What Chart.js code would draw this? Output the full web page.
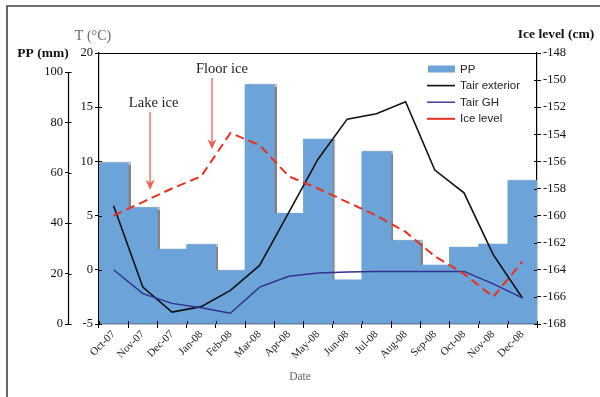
<!DOCTYPE html>
<html>
<head>
<meta charset="utf-8">
<script src="https://cdn.jsdelivr.net/npm/chart.js@4.4.1/dist/chart.umd.min.js"></script>
<style>
  html, body { margin: 0; padding: 0; background: #fff; }
  #wrap { position: relative; width: 600px; height: 397px; }
  canvas { display: block; }
</style>
</head>
<body>
<div id="wrap"><canvas id="c" width="600" height="397"></canvas></div>
<script>
// Monthly series, Oct-07 .. Dec-08
const months = ['Oct-07', 'Nov-07', 'Dec-07', 'Jan-08', 'Feb-08', 'Mar-08', 'Apr-08', 'May-08',
                'Jun-08', 'Jul-08', 'Aug-08', 'Sep-08', 'Oct-08', 'Nov-08', 'Dec-08'];
const ppMm = [64.0, 46.2, 29.6, 31.5, 21.2, 95.0, 43.9, 73.4, 17.5, 68.4, 33.1, 23.4, 30.4, 31.7, 56.9];
const tairExterior = [5.9, -1.6, -3.9, -3.4, -1.9, 0.4, 5.3, 10.2, 13.9, 14.4, 15.5, 9.2, 7.1, 1.4, -2.6];
const tairGH = [0.0, -2.2, -3.1, -3.5, -4.0, -1.6, -0.6, -0.3, -0.2, -0.15, -0.15, -0.15, -0.15, -1.3, -2.6];
const iceLevel = [-160.0, -159.0, -158.0, -157.1, -153.9, -154.8, -157.1, -158.0, -159.0, -160.0,
                  -161.2, -163.0, -164.3, -166.0, -163.4];

// Axis ranges
const ppRange = [0, 100];
const tRange = [-5, 20];
const iceRange = [-168, -148];

const SERIF = '"Liberation Serif", "Times New Roman", serif';
const SANS = '"Liberation Sans", Arial, sans-serif';

// Event markers drawn as arrows, placed on the month axis and the ice-level axis
const events = [
  { text: 'Lake ice', at: 1.25, from: -152.35, to: -158.1, textAt: 1.37, textY: -151.7 },
  { text: 'Floor ice', at: 3.37, from: -149.85, to: -155.1, textAt: 3.71, textY: -149.2 }
];

// PP axis stops at 100 mm, slightly below the top of the plot frame
const ppTop = 100 * 271 / 252;

const fixedWidth = (w) => (scale) => { scale.width = w; };
const plainNumber = (v) => String(v);

const decor = {
  id: 'decor',
  beforeDraw(chart) {
    const { ctx, width, height } = chart;
    ctx.save();
    ctx.fillStyle = '#fff';
    ctx.fillRect(0, 0, width, height);
    ctx.strokeStyle = '#444';
    ctx.lineWidth = 1.6;
    ctx.beginPath();
    ctx.moveTo(7, height);
    ctx.lineTo(7, 6);
    ctx.lineTo(width, 6);
    ctx.stroke();
    ctx.restore();
  },
  beforeDatasetDraw(chart, args) {
    const ctx = chart.ctx;
    ctx.save();
    if (args.meta.type === 'bar') {
      ctx.shadowColor = 'rgba(90,90,90,0.75)';
      ctx.shadowOffsetX = 2;
      ctx.shadowOffsetY = 0;
      ctx.shadowBlur = 1;
    }
  },
  afterDatasetDraw(chart) {
    chart.ctx.restore();
  },
  afterDraw(chart) {
    const { ctx, chartArea: ca } = chart;
    const { x, yT, yP, yI } = chart.scales;
    ctx.save();

    // top edge of the plot frame
    ctx.strokeStyle = '#000';
    ctx.lineWidth = 1.2;
    ctx.beginPath();
    ctx.moveTo(ca.left, Math.round(ca.top) + 0.5);
    ctx.lineTo(ca.right, Math.round(ca.top) + 0.5);
    ctx.stroke();

    // PP axis line, 0..100 mm
    const px = Math.round(yP.right) - 0.5;
    ctx.beginPath();
    ctx.moveTo(px, yP.getPixelForValue(ppRange[0]));
    ctx.lineTo(px, yP.getPixelForValue(ppRange[1]));
    ctx.stroke();

    // short inner halves of the tick marks
    ctx.lineWidth = 1;
    ctx.beginPath();
    for (let i = 0; i <= months.length; i++) {
      const tx = Math.round(x.getPixelForValue(i - 0.5)) + 0.5;
      ctx.moveTo(tx, x.top);
      ctx.lineTo(tx, x.top - 3);
    }
    yT.ticks.forEach((t, i) => {
      const ty = Math.round(yT.getPixelForTick(i)) + 0.5;
      ctx.moveTo(yT.right, ty);
      ctx.lineTo(yT.right + 3, ty);
    });
    yP.ticks.forEach((t, i) => {
      const ty = Math.round(yP.getPixelForTick(i)) + 0.5;
      ctx.moveTo(px, ty);
      ctx.lineTo(px + 3, ty);
    });
    yI.ticks.forEach((t, i) => {
      const ty = Math.round(yI.getPixelForTick(i)) + 0.5;
      ctx.moveTo(yI.left, ty);
      ctx.lineTo(yI.left - 3, ty);
    });
    ctx.stroke();

    // axis titles
    ctx.textBaseline = 'middle';
    ctx.textAlign = 'center';
    ctx.fillStyle = '#111';
    ctx.font = 'bold 13.5px ' + SERIF;
    ctx.fillText('PP (mm)', yP.right - 26, ca.top + 1);
    ctx.fillText('Ice level (cm)', yI.left + 19, ca.top - 18);
    ctx.fillStyle = '#666';
    ctx.font = '14px ' + SERIF;
    ctx.fillText('T (\u00B0C)', yT.right - 6, ca.top - 17);
    ctx.font = '11.5px ' + SERIF;
    ctx.fillText('Date', (ca.left + ca.right) / 2 - 18, ca.bottom + 53);

    // event arrows
    events.forEach(ev => {
      const ax = x.getPixelForValue(ev.at);
      const y0 = yI.getPixelForValue(ev.from);
      const y1 = yI.getPixelForValue(ev.to);
      ctx.strokeStyle = '#f27563';
      ctx.fillStyle = '#f0604e';
      ctx.lineWidth = 1.5;
      ctx.beginPath();
      ctx.moveTo(ax, y0);
      ctx.lineTo(ax, y1 - 6);
      ctx.stroke();
      ctx.beginPath();
      ctx.moveTo(ax, y1);
      ctx.lineTo(ax - 4.5, y1 - 10);
      ctx.lineTo(ax, y1 - 7);
      ctx.lineTo(ax + 4.5, y1 - 10);
      ctx.closePath();
      ctx.fill();
      ctx.fillStyle = '#222';
      ctx.font = '14.5px ' + SERIF;
      ctx.textAlign = 'center';
      ctx.fillText(ev.text, x.getPixelForValue(ev.textAt), yI.getPixelForValue(ev.textY));
    });

    // legend
    const lx = ca.right - 109;
    let ly = ca.top + 16;
    ctx.font = '11.5px ' + SANS;
    ctx.textAlign = 'left';
    chart.data.datasets.forEach(ds => {
      if (ds.type === 'bar') {
        ctx.fillStyle = ds.backgroundColor;
        ctx.fillRect(lx, ly - 3.5, 27, 7);
      } else {
        ctx.strokeStyle = ds.borderColor;
        ctx.lineWidth = ds.borderWidth;
        ctx.setLineDash([]);
        ctx.beginPath();
        ctx.moveTo(lx - 1, ly);
        ctx.lineTo(lx + 27, ly);
        ctx.stroke();
      }
      ctx.fillStyle = '#222';
      ctx.fillText(ds.label, lx + 32, ly + 0.5);
      ly += 16.6;
    });

    ctx.restore();
  }
};

const axisFont = { family: SERIF, size: 12.5 };

new Chart(document.getElementById('c'), {
  data: {
    labels: months,
    datasets: [
      { type: 'bar', label: 'PP', data: ppMm, yAxisID: 'yP', order: 10,
        backgroundColor: '#6ca3d8', borderWidth: 0, barPercentage: 1, categoryPercentage: 1 },
      { type: 'line', label: 'Tair exterior', data: tairExterior, yAxisID: 'yT', order: 3,
        borderColor: '#111', borderWidth: 1.6, pointRadius: 0, tension: 0, fill: false },
      { type: 'line', label: 'Tair GH', data: tairGH, yAxisID: 'yT', order: 2,
        borderColor: '#33308f', borderWidth: 1.4, pointRadius: 0, tension: 0, fill: false },
      { type: 'line', label: 'Ice level', data: iceLevel, yAxisID: 'yI', order: 1,
        borderColor: '#e8301f', borderWidth: 2, borderDash: [9, 5], pointRadius: 0, tension: 0, fill: false }
    ]
  },
  options: {
    responsive: false,
    animation: false,
    layout: { padding: { top: 53, left: 0, right: 0, bottom: 0 } },
    plugins: { legend: { display: false }, tooltip: { enabled: false } },
    scales: {
      x: {
        type: 'category', offset: true, z: 1,
        grid: { offset: true, drawOnChartArea: false, tickLength: 4, color: '#000' },
        border: { color: '#000', width: 1.2 },
        ticks: { font: { family: SERIF, size: 11 }, color: '#222', minRotation: 45, maxRotation: 45, padding: 0, autoSkip: false },
        afterFit: (s) => { s.height = 73; }
      },
      yT: {
        type: 'linear', position: 'left', weight: 0, z: 1,
        min: tRange[0], max: tRange[1],
        grid: { drawOnChartArea: false, tickLength: 4, color: '#000' },
        border: { color: '#000', width: 1.2 },
        ticks: { stepSize: 5, font: axisFont, color: '#111', padding: 2, callback: plainNumber },
        afterFit: fixedWidth(30)
      },
      yP: {
        type: 'linear', position: 'left', weight: 1, z: 1,
        min: ppRange[0], max: ppTop,
        grid: { drawOnChartArea: false, tickLength: 4, color: '#000' },
        border: { display: false },
        ticks: { stepSize: 20, includeBounds: false, font: axisFont, color: '#111', padding: 2, callback: plainNumber },
        afterFit: fixedWidth(69)
      },
      yI: {
        type: 'linear', position: 'right', z: 1,
        min: iceRange[0], max: iceRange[1],
        grid: { drawOnChartArea: false, tickLength: 4, color: '#000' },
        border: { color: '#000', width: 1.2 },
        ticks: { stepSize: 2, font: axisFont, color: '#111', padding: 2, callback: plainNumber },
        afterFit: fixedWidth(63)
      }
    }
  },
  plugins: [decor]
});
</script>
</body>
</html>
